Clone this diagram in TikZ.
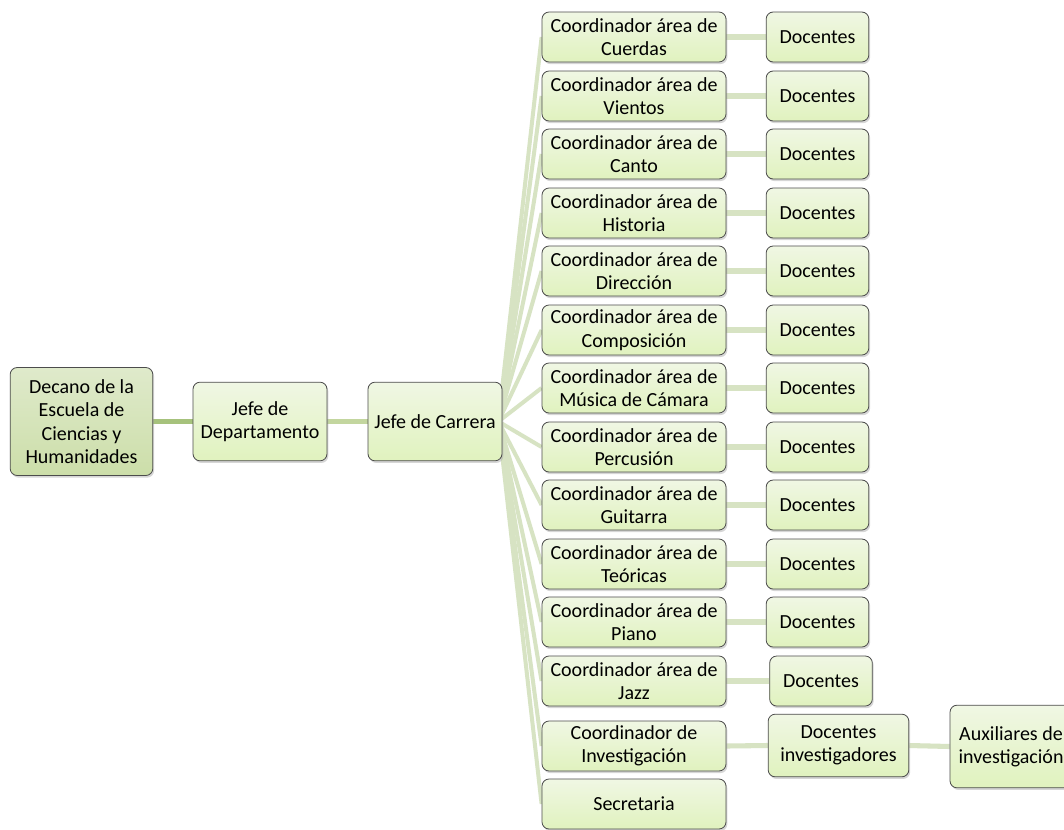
\documentclass[tikz,border=0pt]{standalone}
\usepackage{fontspec}
\setmainfont{Carlito}
\usetikzlibrary{shadows,backgrounds}
\definecolor{boxtop}{HTML}{F0F7E4}
\definecolor{boxbot}{HTML}{E0F2BE}
\definecolor{dectop}{HTML}{DFEACB}
\definecolor{decbot}{HTML}{CCDEA9}
\definecolor{lnA}{HTML}{A6C27C}
\definecolor{lnB}{HTML}{C3D69F}
\definecolor{lnC}{HTML}{D7E3C3}
\tikzset{
  orgbox/.style={draw=black!70, line width=0.6pt, rounded corners=5.3pt,
    top color=boxtop, bottom color=boxbot, align=center, inner sep=1pt,
    font=\fontsize{15}{17.5}\selectfont,
    drop shadow={shadow xshift=1pt, shadow yshift=-1.6pt, fill=black!35, opacity=0.45}},
  decbox/.style={orgbox, top color=dectop, bottom color=decbot},
  coordbox/.style={orgbox, minimum width=138pt, minimum height=37.5pt},
  docbox/.style={orgbox, minimum width=77pt, minimum height=37.5pt},
  linkA/.style={lnA, line width=3.8pt},
  linkB/.style={lnB, line width=3.8pt},
  fanline/.style={lnC, line width=3pt},
  rowline/.style={lnC, line width=3.8pt},
}
\begin{document}
\begin{tikzpicture}[x=0.75pt,y=-0.75pt]
\useasboundingbox (0,0) rectangle (1064,829);
\node[decbox, minimum width=107pt, minimum height=81pt] (dec) at (81.5,421.5) {Decano de la\\Escuela de\\Ciencias y\\Humanidades};
\node[orgbox, minimum width=100.5pt, minimum height=59pt] (jd) at (260,421.5) {Jefe de\\Departamento};
\node[orgbox, minimum width=100.5pt, minimum height=59pt] (jc) at (435,421.5) {Jefe de Carrera};
\node[coordbox] (c1) at (634,37) {Coordinador área de\\Cuerdas};
\node[coordbox] (c2) at (634,96) {Coordinador área de\\Vientos};
\node[coordbox] (c3) at (634,154) {Coordinador área de\\Canto};
\node[coordbox] (c4) at (634,213) {Coordinador área de\\Historia};
\node[coordbox] (c5) at (634,271) {Coordinador área de\\Dirección};
\node[coordbox] (c6) at (634,330) {Coordinador área de\\Composición};
\node[coordbox] (c7) at (634,388) {Coordinador área de\\Música de Cámara};
\node[coordbox] (c8) at (634,447) {Coordinador área de\\Percusión};
\node[coordbox] (c9) at (634,505) {Coordinador área de\\Guitarra};
\node[coordbox] (c10) at (634,564) {Coordinador área de\\Teóricas};
\node[coordbox] (c11) at (634,622) {Coordinador área de\\Piano};
\node[coordbox] (c12) at (634,681) {Coordinador área de\\Jazz};
\node[coordbox] (c13) at (634,746) {Coordinador de\\Investigación};
\node[coordbox] (c14) at (634,804) {Secretaria};
\foreach \i/\y in {1/37,2/96,3/154,4/213,5/271,6/330,7/388,8/447,9/505,10/564,11/622}
  \node[docbox] (d\i) at (817.5,\y) {Docentes};
\node[docbox] (d12) at (821,681) {Docentes};
\node[orgbox, minimum width=105.5pt, minimum height=47pt] (di) at (838.5,745.5) {Docentes\\investigadores};
\node[orgbox, minimum width=91.5pt, minimum height=62pt] (aux) at (1011,746.5) {Auxiliares de\\investigación};
\begin{scope}[on background layer]
\fill[white] (0,0) rectangle (1064,829);
\draw[linkA] (dec.east) -- (jd.west);
\draw[linkB] (jd.east) -- (jc.west);
\foreach \i in {1,...,14}
  \draw[fanline] ([xshift=-3pt]jc.east) -- (c\i.west);
\foreach \i in {1,...,12}
  \draw[rowline] (c\i.east) -- (d\i.west);
\draw[rowline] (c13.east) -- (di.west);
\draw[rowline] (di.east) -- (aux.west);
\end{scope}
\end{tikzpicture}
\end{document}
